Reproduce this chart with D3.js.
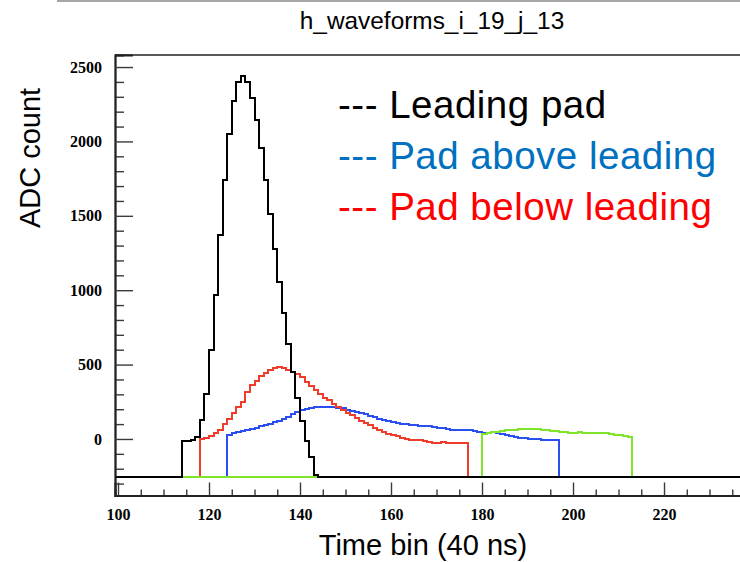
<!DOCTYPE html>
<html>
<head>
<meta charset="utf-8">
<script src="https://cdn.jsdelivr.net/npm/d3@7/dist/d3.min.js"></script>
<style>
  html, body { margin: 0; padding: 0; background: #fff; }
  svg { display: block; }
</style>
</head>
<body>
<svg id="chart" width="740" height="562"></svg>
<script>
// ADC waveforms, one bin = 40 ns. Bins outside each pad's readout window sit at the pedestal.
const pedestal = -255;

const leadingStart = 114;
const leadingPad = [
  -15, -12, -5, 15, 130, 300, 598, 970, 1369, 1740,
  2049, 2273, 2401, 2439, 2401, 2293, 2141, 1957, 1742, 1515,
  1280, 1058, 845, 638, 450, 276, 122, -15, -120, -240
];

const belowStart = 118;
const padBelow = [
  1, 8, 17, 39, 57, 102, 136, 174, 214, 248,
  315, 360, 389, 421, 443, 461, 479, 483, 479, 466,
  450, 434, 416, 382, 353, 326, 304, 277, 259, 237,
  214, 192, 174, 158, 143, 124, 106, 91, 75, 62,
  46, 35, 24, 17, 8, -1, -5, -10, -10, -15,
  -21, -28, -24, -19, -24, -24, -24, -24, -24
];

const aboveStart = 124;
const padAbove = [
  30, 39, 46, 53, 57, 64, 75, 84, 91, 102,
  113, 124, 136, 151, 170, 180, 196, 203, 210, 214,
  214, 214, 214, 214, 210, 205, 196, 190, 183, 174,
  165, 156, 147, 136, 127, 120, 113, 106, 102, 98,
  96, 91, 89, 86, 84, 79, 75, 71, 66, 62,
  62, 62, 57, 57, 53, 46, 42, 39, 44, 39,
  35, 26, 19, 12, 8, 5, 3, 3, -1, -5,
  -5, -5, -5
];

const fourthStart = 180;
const fourthPad = [
  35, 39, 44, 50, 55, 57, 59, 62, 64, 64,
  64, 64, 64, 62, 57, 55, 53, 50, 44, 42,
  42, 44, 42, 39, 39, 39, 37, 37, 32, 28,
  26, 21, 15
];

const xMajorTicks = [100, 120, 140, 160, 180, 200, 220];
const yMajorTicks = [0, 500, 1000, 1500, 2000, 2500];

const legendLines = [
  { text: "--- Leading pad", color: "#000000" },
  { text: "--- Pad above leading", color: "#0070C0" },
  { text: "--- Pad below leading", color: "#FF0000" }
];

const svg = d3.select("#chart");

const frame = { left: 115, top: 55, right: 745, bottom: 495.5 };
const x = d3.scaleLinear().domain([99.34, 237.8]).range([frame.left, frame.right]);
const y = d3.scaleLinear().domain([-380, 2581]).range([frame.bottom, frame.top]);

// thin pad border at the very top
svg.append("line")
  .attr("x1", 57).attr("x2", 740).attr("y1", 1).attr("y2", 1)
  .attr("stroke", "#8a8a8a").attr("stroke-width", 1.5);

// histogram title
svg.append("text")
  .attr("x", 432).attr("y", 29)
  .attr("text-anchor", "middle")
  .attr("font-family", "'Liberation Sans', Arial, Helvetica, sans-serif")
  .attr("font-size", 24.4)
  .attr("fill", "#000")
  .text("h_waveforms_i_19_j_13");

svg.append("defs").append("clipPath").attr("id", "frameClip")
  .append("rect")
  .attr("x", frame.left).attr("y", frame.top)
  .attr("width", frame.right - frame.left).attr("height", frame.bottom - frame.top);

// turn a bin list into step points, padded with the pedestal on both sides
function stepPoints(start, values) {
  const [x0, x1] = x.domain();
  const pts = [{ t: x0, v: pedestal }];
  values.forEach((v, i) => pts.push({ t: start + i, v: v }));
  pts.push({ t: start + values.length, v: pedestal });
  pts.push({ t: x1, v: pedestal });
  return pts;
}

const stepLine = d3.line()
  .x(d => x(d.t))
  .y(d => y(d.v))
  .curve(d3.curveStepAfter);

const series = [
  { start: aboveStart, values: padAbove, color: "#2a4ff0" },
  { start: belowStart, values: padBelow, color: "#f03c2a" },
  { start: fourthStart, values: fourthPad, color: "#7fe52a" },
  { start: leadingStart, values: leadingPad, color: "#000000" }
];

const plot = svg.append("g").attr("clip-path", "url(#frameClip)");
series.forEach(s => {
  plot.append("path")
    .datum(stepPoints(s.start, s.values))
    .attr("d", stepLine)
    .attr("fill", "none")
    .attr("stroke", s.color)
    .attr("stroke-width", 2)
    .attr("stroke-linejoin", "miter")
    .attr("shape-rendering", "crispEdges");
});

// frame top edge
svg.append("line")
  .attr("x1", frame.left).attr("x2", frame.right)
  .attr("y1", frame.top).attr("y2", frame.top)
  .attr("stroke", "#222").attr("stroke-width", 1.6);

const tickColor = "#3a3a3a";
const numFont = "'Liberation Serif', 'Times New Roman', Times, serif";

// x axis: major ticks with labels, minor ticks every 5 bins
const xMinor = d3.range(100, 238, 5).filter(t => t % 20 !== 0);
const xMinorAxis = d3.axisBottom(x).tickValues(xMinor).tickSize(-6).tickFormat("");
const xMajorAxis = d3.axisBottom(x).tickValues(xMajorTicks).tickSize(-13).tickPadding(13)
  .tickFormat(d3.format("d"));

const gxMinor = svg.append("g").attr("transform", `translate(0,${frame.bottom})`).call(xMinorAxis);
const gx = svg.append("g").attr("transform", `translate(0,${frame.bottom})`).call(xMajorAxis);
[gxMinor, gx].forEach(g => {
  g.select(".domain").attr("stroke", "#222").attr("stroke-width", 1.8);
  g.selectAll(".tick line").attr("stroke", tickColor).attr("stroke-width", 1.4);
});
gx.selectAll(".tick text")
  .attr("font-family", numFont).attr("font-weight", "bold").attr("font-size", 16)
  .attr("fill", "#000");

// y axis: major every 500, minor every 100
const yMinor = d3.range(-300, 2600, 100).filter(t => yMajorTicks.indexOf(t) < 0);
const yMinorAxis = d3.axisLeft(y).tickValues(yMinor).tickSize(-9).tickFormat("");
const yMajorAxis = d3.axisLeft(y).tickValues(yMajorTicks).tickSize(-18).tickPadding(13)
  .tickFormat(d3.format("d"));

const gyMinor = svg.append("g").attr("transform", `translate(${frame.left},0)`).call(yMinorAxis);
const gy = svg.append("g").attr("transform", `translate(${frame.left},0)`).call(yMajorAxis);
[gyMinor, gy].forEach(g => {
  g.select(".domain").attr("stroke", "#222").attr("stroke-width", 1.8);
  g.selectAll(".tick line").attr("stroke", tickColor).attr("stroke-width", 1.4);
});
gy.selectAll(".tick text")
  .attr("font-family", numFont).attr("font-weight", "bold").attr("font-size", 16)
  .attr("fill", "#000");

// axis titles
const labelFont = "'Liberation Sans', Arial, Helvetica, sans-serif";
svg.append("text")
  .attr("x", 423).attr("y", 555)
  .attr("text-anchor", "middle")
  .attr("font-family", labelFont).attr("font-size", 29)
  .attr("fill", "#000")
  .text("Time bin (40 ns)");

svg.append("text")
  .attr("transform", "translate(40,158) rotate(-90)")
  .attr("text-anchor", "middle")
  .attr("font-family", labelFont).attr("font-size", 29)
  .attr("fill", "#000")
  .text("ADC count");

// legend text
svg.append("g").selectAll("text")
  .data(legendLines)
  .join("text")
  .attr("x", 338)
  .attr("y", (d, i) => 118 + i * 51)
  .attr("font-family", labelFont)
  .attr("font-size", 38.5)
  .attr("letter-spacing", 0.5)
  .attr("fill", d => d.color)
  .text(d => d.text);
</script>
</body>
</html>
